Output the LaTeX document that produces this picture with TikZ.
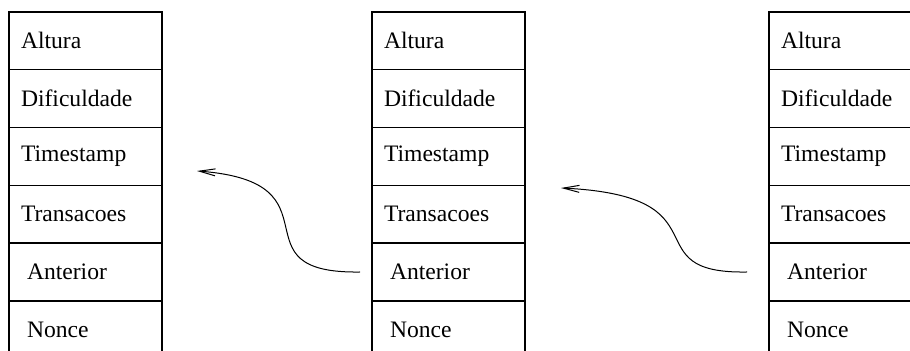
\documentclass[tikz,border=0pt]{standalone}
\usepackage{fontspec}
\setmainfont{Liberation Serif}
\usetikzlibrary{arrows.meta,positioning}

\tikzset{
  campo/.style={draw, line width=0.7pt, outer sep=0pt, anchor=north west,
    minimum width=76.5pt, minimum height=28.9pt, inner xsep=6pt, inner ysep=0pt,
    text width=64.5pt, align=left, font=\fontsize{11.8}{14}\selectfont},
  recuo/.style={inner xsep=9pt, text width=58.5pt},
  ligacao/.style={line width=0.5pt, -{Straight Barb[length=8pt,width=3.5pt]}}
}

\begin{document}
\begin{tikzpicture}[x=0.5pt,y=-0.5pt]
\useasboundingbox (0,0) rectangle (910,351);

\coordinate[] (A) at (9,12);
\coordinate[] (B) at (372,12);
\coordinate[] (C) at (769,12);

% primeiro bloco
\node[campo] (A1) at (A) {Altura};
\node[campo, below=0pt of A1] (A2) {Dificuldade};
\node[campo, below=0pt of A2] (A3) {Timestamp};
\node[campo, below=0pt of A3] (A4) {Transacoes};
\node[campo, recuo, below=0pt of A4] (A5) {Anterior};
\node[campo, recuo, below=0pt of A5] (A6) {Nonce};

% segundo bloco
\node[campo] (B1) at (B) {Altura};
\node[campo, below=0pt of B1] (B2) {Dificuldade};
\node[campo, below=0pt of B2] (B3) {Timestamp};
\node[campo, below=0pt of B3] (B4) {Transacoes};
\node[campo, recuo, below=0pt of B4] (B5) {Anterior};
\node[campo, recuo, below=0pt of B5] (B6) {Nonce};

% terceiro bloco
\node[campo] (C1) at (C) {Altura};
\node[campo, below=0pt of C1] (C2) {Dificuldade};
\node[campo, below=0pt of C2] (C3) {Timestamp};
\node[campo, below=0pt of C3] (C4) {Transacoes};
\node[campo, recuo, below=0pt of C4] (C5) {Anterior};
\node[campo, recuo, below=0pt of C5] (C6) {Nonce};

% ponteiros para o bloco anterior
\coordinate[] (P1) at (360,272);
\coordinate[] (Q1) at (197,171);
\coordinate[] (P2) at (747,272);
\coordinate[] (Q2) at (561,188);

\draw [ligacao] (P1) .. controls (230,274) and (345,182) .. (Q1);
\draw [ligacao] (P2) .. controls (630,274) and (730,196) .. (Q2);

\end{tikzpicture}
\end{document}
